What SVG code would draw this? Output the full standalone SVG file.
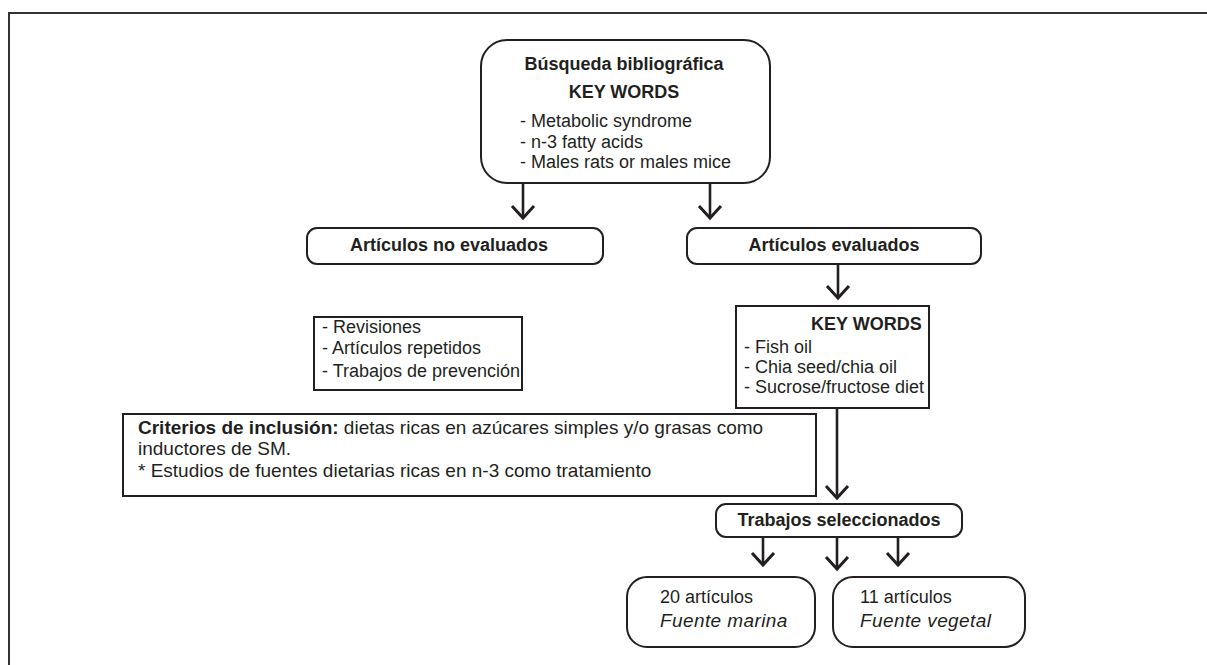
<svg xmlns="http://www.w3.org/2000/svg" width="1207" height="665" viewBox="0 0 1207 665">
<style>
.t{font-family:"Liberation Sans",Arial,sans-serif;font-size:18px;fill:#231f20}
.c{font-size:19px}
.b{font-weight:bold}
.i{font-style:italic;font-size:19px;letter-spacing:0.4px}
.box{fill:#fff;stroke:#231f20;stroke-width:2}
.ln{fill:none;stroke:#231f20;stroke-width:2.6}
.hd{fill:none;stroke:#231f20;stroke-width:3;stroke-linejoin:miter}
</style>
<rect width="1207" height="665" fill="#fff"/>
<path d="M9,665 V13 H1207" fill="none" stroke="#333" stroke-width="2"/>
<g id="connectors">
<path class="ln" d="M523,184 V217"/><path class="hd" d="M512,206 L523,218 L534,206"/>
<path class="ln" d="M710,184 V217"/><path class="hd" d="M699,206 L710,218 L721,206"/>
<path class="ln" d="M838,265 V297"/><path class="hd" d="M827,286 L838,298 L849,286"/>
<path class="ln" d="M837,409 V497" stroke-width="3.5"/><path class="hd" d="M826,486 L837,498 L848,486"/>
<path class="ln" d="M763,538 V564"/><path class="hd" d="M752,553 L763,565 L774,553"/>
<path class="ln" d="M837,538 V568" stroke-width="4"/><path class="hd" d="M826,557 L837,569 L848,557" stroke-width="4.5"/>
<path class="ln" d="M898,538 V564"/><path class="hd" d="M887,553 L898,565 L909,553"/>
</g>
<g id="busqueda">
<rect class="box" x="481" y="40" width="289" height="143" rx="26"/>
<text class="t b" x="624" y="70" text-anchor="middle">Búsqueda bibliográfica</text>
<text class="t b" x="624" y="98" text-anchor="middle">KEY WORDS</text>
<text class="t" x="520" y="127">- Metabolic syndrome</text>
<text class="t" x="520" y="148">- n-3 fatty acids</text>
<text class="t" x="520" y="168">- Males rats or males mice</text>
</g>
<g id="no-evaluados">
<rect class="box" x="307" y="228" width="296" height="36" rx="10"/>
<text class="t b" x="449" y="251" text-anchor="middle">Artículos no evaluados</text>
</g>
<g id="evaluados">
<rect class="box" x="687" y="228" width="294" height="36" rx="10"/>
<text class="t b" x="834" y="251" text-anchor="middle">Artículos evaluados</text>
</g>
<g id="exclusion">
<rect class="box" x="314" y="317" width="208" height="73"/>
<text class="t" x="322" y="333">- Revisiones</text>
<text class="t" x="322" y="354">- Artículos repetidos</text>
<text class="t" x="322" y="377">- Trabajos de prevención</text>
</g>
<g id="keywords2">
<rect class="box" x="736" y="306" width="193" height="102"/>
<text class="t b" x="811" y="330">KEY WORDS</text>
<text class="t" x="744" y="353">- Fish oil</text>
<text class="t" x="744" y="373">- Chia seed/chia oil</text>
<text class="t" x="744" y="393">- Sucrose/fructose diet</text>
</g>
<g id="criterios">
<rect class="box" x="123" y="414" width="693" height="82"/>
<text class="t c" x="138" y="434"><tspan class="b">Criterios de inclusión:</tspan> dietas ricas en azúcares simples y/o grasas como</text>
<text class="t c" x="138" y="455">inductores de SM.</text>
<text class="t c" x="138" y="477">* Estudios de fuentes dietarias ricas en n-3 como tratamiento</text>
</g>
<g id="seleccionados">
<rect class="box" x="716" y="504" width="246" height="33" rx="10"/>
<text class="t b" x="839" y="526" text-anchor="middle">Trabajos seleccionados</text>
</g>
<g id="marina">
<rect class="box" x="627" y="577" width="188" height="70" rx="20"/>
<text class="t" x="660" y="603">20 artículos</text>
<text class="t i" x="660" y="627">Fuente marina</text>
</g>
<g id="vegetal">
<rect class="box" x="833" y="577" width="192" height="70" rx="20"/>
<text class="t" x="860" y="603">11 artículos</text>
<text class="t i" x="860" y="627">Fuente vegetal</text>
</g>
</svg>
